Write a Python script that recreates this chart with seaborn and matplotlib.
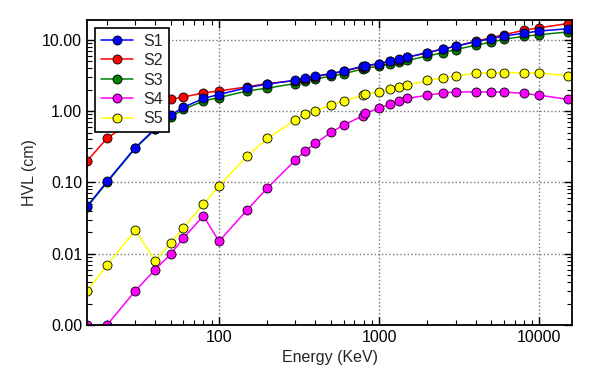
import matplotlib
matplotlib.use('Agg')
import matplotlib.pyplot as plt
from matplotlib.ticker import FormatStrFormatter, FuncFormatter, LogLocator, NullFormatter
import pandas as pd
import seaborn as sns

energy = [15, 20, 30, 40, 50, 60, 80, 100, 150, 200, 300, 344, 400, 500, 600,
          790, 820, 1000, 1173, 1332, 1500, 2000, 2500, 3000, 4000, 5000, 6000,
          8000, 10000, 15000]
s1 = [0.046, 0.103, 0.307, 0.57, 0.88, 1.13, 1.51, 1.71, 2.14, 2.39, 2.71, 2.87,
      3.09, 3.37, 3.66, 4.26, 4.36, 4.65, 5.05, 5.34, 5.72, 6.62, 7.43, 8.11,
      9.43, 10.4, 11.3, 12.4, 13.3, 14.3]
s2 = [0.20, 0.415, 0.78, 1.15, 1.46, 1.58, 1.80, 1.92, 2.19, 2.44, 2.68, 2.84,
      3.05, 3.33, 3.62, 4.2, 4.3, 4.6, 5.0, 5.3, 5.7, 6.6, 7.45, 8.15, 9.55,
      10.7, 11.8, 13.6, 14.8, 16.9]
s3 = [0.045, 0.10, 0.30, 0.555, 0.82, 1.06, 1.39, 1.55, 1.92, 2.10, 2.44, 2.62,
      2.83, 3.09, 3.35, 3.9, 4.0, 4.27, 4.65, 4.92, 5.15, 5.94, 6.6, 7.3, 8.4,
      9.3, 10.2, 11.2, 11.8, 12.9]
s4 = [0.001, 0.001, 0.003, 0.006, 0.0099, 0.0166, 0.034, 0.0149, 0.0412, 0.083,
      0.206, 0.276, 0.353, 0.503, 0.637, 0.86, 0.93, 1.11, 1.24, 1.39, 1.51,
      1.67, 1.80, 1.86, 1.86, 1.86, 1.86, 1.77, 1.67, 1.47]
s5 = [0.003, 0.0069, 0.0212, 0.008, 0.0141, 0.0233, 0.0495, 0.0893, 0.235, 0.415,
      0.75, 0.908, 1.01, 1.21, 1.39, 1.66, 1.73, 1.86, 2.03, 2.19, 2.31, 2.69,
      2.96, 3.11, 3.4, 3.45, 3.47, 3.45, 3.42, 3.15]

names = ['S1', 'S2', 'S3', 'S4', 'S5']
colors = ['#0000ff', '#ff0000', '#008000', '#ff00ff', '#ffff00']

df = pd.DataFrame({'Energy': energy, 'S1': s1, 'S2': s2, 'S3': s3, 'S4': s4, 'S5': s5})
long = df.melt(id_vars='Energy', var_name='series', value_name='HVL')

sns.set_style('ticks')
plt.rcParams['font.family'] = ['Liberation Sans', 'DejaVu Sans']
plt.rcParams['font.size'] = 11

fig = plt.figure(figsize=(5.94, 3.77), dpi=100)
ax = fig.add_axes([0.1465, 0.138, 0.8165, 0.809])

# draw S5 first so S1 ends up on top
for name, col in reversed(list(zip(names, colors))):
    sns.lineplot(data=long[long['series'] == name], x='Energy', y='HVL',
                 color=col, marker='o', markersize=6.5, markeredgecolor='black',
                 markeredgewidth=0.6, linewidth=1.1, label=name, ax=ax)

ax.set_xscale('log')
ax.set_yscale('log')
ax.set_xlim(15, 16000)
ax.set_ylim(0.001, 19)

ax.yaxis.set_major_formatter(FormatStrFormatter('%.2f'))
ax.xaxis.set_major_formatter(FuncFormatter(lambda v, p: '%d' % v))
ax.xaxis.set_minor_formatter(NullFormatter())
ax.yaxis.set_minor_formatter(NullFormatter())
ax.yaxis.set_major_locator(LogLocator(base=10, numticks=10))

ax.tick_params(which='both', direction='in', top=True, right=True, colors='black',
               labelsize=11.5)
ax.tick_params(which='major', length=6, width=1)
ax.tick_params(which='minor', length=3.5, width=0.8)
for sp in ax.spines.values():
    sp.set_color('black')
    sp.set_linewidth(1.3)
ax.grid(True, which='major', linestyle=':', color='#777777', linewidth=1)

ax.set_xlabel('Energy (KeV)', fontsize=11.5)
ax.set_ylabel('HVL (cm)', fontsize=11.5)

handles, labels = ax.get_legend_handles_labels()
order = [labels.index(n) for n in names]
leg = ax.legend([handles[i] for i in order], names, loc='upper left', fontsize=11.5,
                fancybox=False, framealpha=1, edgecolor='black',
                borderaxespad=0.5, borderpad=0.35, handlelength=2.0,
                handletextpad=0.7, labelspacing=0.28)
leg.get_frame().set_linewidth(1.2)

fig.savefig('out.png', dpi=100)
